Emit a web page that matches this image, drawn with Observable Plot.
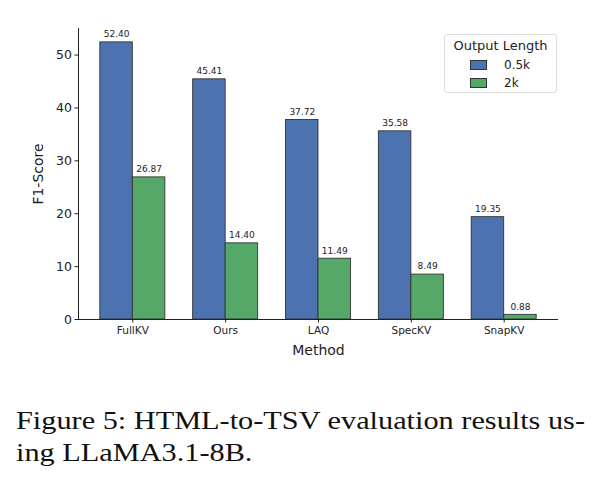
<!DOCTYPE html>
<html>
<head>
<meta charset="utf-8">
<script src="https://cdn.jsdelivr.net/npm/d3@7"></script>
<script src="https://cdn.jsdelivr.net/npm/@observablehq/plot@0.6"></script>
<style>
  html, body { margin: 0; padding: 0; background: #fff; }
  #wrap { position: relative; width: 601px; height: 486px; overflow: hidden; }
  #legend {
    position: absolute; left: 444px; top: 34px; width: 113px; height: 59px;
    border: 1px solid #ddd; border-radius: 3px; background: rgba(255,255,255,0.8);
    font-family: "DejaVu Sans", sans-serif; color: #222; box-sizing: border-box;
  }
  #legend .title { position: absolute; left: 0; right: 0; top: 3px; text-align: center; font-size: 13px; }
  #legend .item { position: absolute; left: 25px; font-size: 12px; height: 12px; line-height: 12px; }
  #legend .sw { position: absolute; left: 0; top: 0; width: 15px; height: 8px; border: 0.8px solid #333; }
  #legend .lab { position: absolute; left: 34px; top: -1px; }
  #caption {
    position: absolute; left: 16px; top: 404.5px;
    font-family: "Liberation Serif", "Times New Roman", serif; font-size: 25.5px; line-height: 32px; color: #111;
    white-space: nowrap; transform-origin: 0 0;
  }
  #caption span { display: block; }
</style>
</head>
<body>
<div id="wrap">
  <div id="chart"></div>
  <div id="legend"></div>
  <div id="caption"></div>
</div>
<script>
const methods = ["FullKV", "Ours", "LAQ", "SpecKV", "SnapKV"];
const values05k = [52.40, 45.41, 37.72, 35.58, 19.35];
const values2k = [26.87, 14.40, 11.49, 8.49, 0.88];
const seriesNames = ["0.5k", "2k"];
const seriesColors = ["#4C72B0", "#55A868"];
const yTicks = [0, 10, 20, 30, 40, 50];
const legendTitle = "Output Length";
const xLabel = "Method";
const yLabel = "F1-Score";
const captionLines = ["Figure 5: HTML-to-TSV evaluation results us-", "ing LLaMA3.1-8B."];

const barW = 0.35;
const data = [];
methods.forEach((m, i) => {
  data.push({i, method: m, series: seriesNames[0], v: values05k[i], x1: i - barW, x2: i});
  data.push({i, method: m, series: seriesNames[1], v: values2k[i], x1: i, x2: i + barW});
});
const span = methods.length - 1 + 2 * barW;
const xMin = -barW - 0.05 * span;
const xMax = methods.length - 1 + barW + 0.05 * span;
const yMax = d3.max(values05k.concat(values2k)) * 1.05;

const chart = Plot.plot({
  width: 601,
  height: 370,
  marginLeft: 78,
  marginRight: 43,
  marginTop: 28,
  marginBottom: 51,
  style: {fontFamily: "DejaVu Sans, sans-serif", color: "#222", background: "#fff"},
  x: {type: "linear", domain: [xMin, xMax]},
  y: {domain: [0, yMax]},
  color: {domain: seriesNames, range: seriesColors},
  marks: [
    Plot.rect(data, {x1: "x1", x2: "x2", y1: 0, y2: "v", fill: "series", stroke: "#333", strokeWidth: 0.9}),
    Plot.text(data, {x: d => (d.x1 + d.x2) / 2, y: "v", text: d => d.v.toFixed(2), dy: -8, fontSize: 9, fill: "#222"}),
    Plot.ruleY([0], {stroke: "#222", strokeWidth: 1}),
    Plot.ruleX([xMin], {y1: 0, y2: yMax, stroke: "#222", strokeWidth: 1}),
    Plot.axisY({ticks: yTicks, tickSize: 3.5, tickPadding: 3, fontSize: 12.5, label: null, stroke: "#222"}),
    Plot.axisX({ticks: methods.map((_, i) => i), tickFormat: i => methods[i], tickSize: 3.5, tickPadding: 4, fontSize: 10.5, label: null, stroke: "#222"}),
    Plot.text([yLabel], {frameAnchor: "left", dx: -40, rotate: -90, fontSize: 14, fill: "#222", textAnchor: "middle"}),
    Plot.text([xLabel], {frameAnchor: "bottom", dy: 35.5, fontSize: 14, fill: "#222"})
  ]
});
document.getElementById("chart").appendChild(chart);

const lg = document.getElementById("legend");
lg.innerHTML = `<div class="title">${legendTitle}</div>` +
  seriesNames.map((s, k) => `<div class="item" style="top:${25 + k * 18}px"><div class="sw" style="background:${seriesColors[k]}"></div><div class="lab">${s}</div></div>`).join("");

const cap = document.getElementById("caption");
cap.innerHTML = captionLines.map(t => `<span>${t}</span>`).join("");
const natural = cap.getBoundingClientRect().width;
cap.style.transform = `scaleX(${569 / natural})`;
</script>
</body>
</html>
